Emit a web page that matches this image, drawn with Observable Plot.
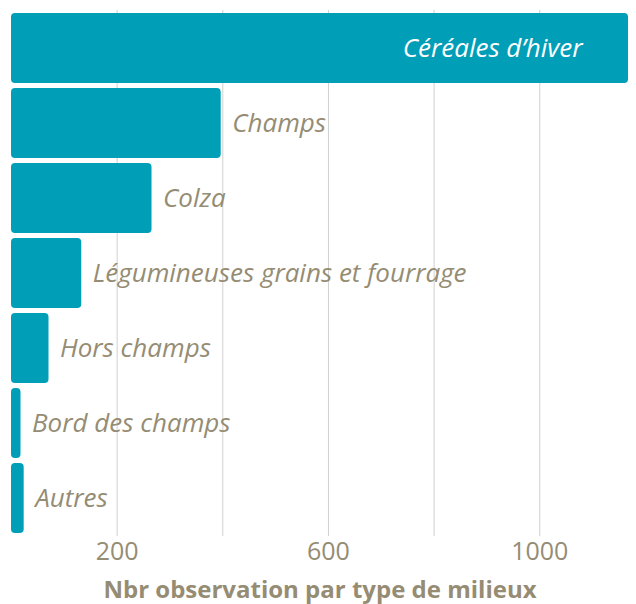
<!DOCTYPE html>
<html><head><meta charset="utf-8">
<script src="https://cdn.jsdelivr.net/npm/d3@7"></script>
<script src="https://cdn.jsdelivr.net/npm/@observablehq/plot@0.6"></script>
<style>
body{margin:0;background:#fff;}
svg{font-family:"Open Sans",sans-serif;}
</style></head><body>
<div id="chart"></div>
<script>
const categories = ["Céréales d’hiver","Champs","Colza","Légumineuses grains et fourrage","Hors champs","Bord des champs","Autres"];
const counts = [1168, 397, 266, 133, 71, 18, 24];
const tickValues = [200, 600, 1000];
const gridValues = [200, 400, 600, 800, 1000];
const axisTitle = "Nbr observation par type de milieux";

const data = categories.map((c, i) => ({cat: c, n: counts[i]}));
const barColor = "#019EB8";
const textColor = "#958C73";
const maxN = d3.max(counts);

const chart = Plot.plot({
  width: 636, height: 604,
  marginLeft: 11, marginRight: 8, marginTop: 10, marginBottom: 68,
  x: {domain: [0, maxN], axis: null},
  y: {domain: categories, axis: null, paddingInner: 0.07, paddingOuter: 0.03},
  marks: [
    Plot.ruleX(gridValues, {stroke: "#d0d0d0", strokeWidth: 1}),
    Plot.barX(data, {x: "n", y: "cat", fill: barColor, rx: 4}),
    Plot.text(data.filter(d => d.n === maxN), {x: "n", y: "cat", text: "cat", textAnchor: "end", dx: -46, fill: "white", fontSize: 26, fontStyle: "italic"}),
    Plot.text(data.filter(d => d.n !== maxN), {x: "n", y: "cat", text: "cat", textAnchor: "start", dx: 11, fill: textColor, fontSize: 26, fontStyle: "italic"}),
    Plot.axisX(tickValues, {tickSize: 0, tickPadding: 6, fontSize: 25, color: textColor, label: null, tickFormat: d => String(d)}),
    Plot.text([axisTitle], {frameAnchor: "bottom", dy: 61, fill: textColor, fontSize: 24, fontWeight: "bold"})
  ]
});
document.getElementById("chart").append(chart);
</script>
</body></html>
